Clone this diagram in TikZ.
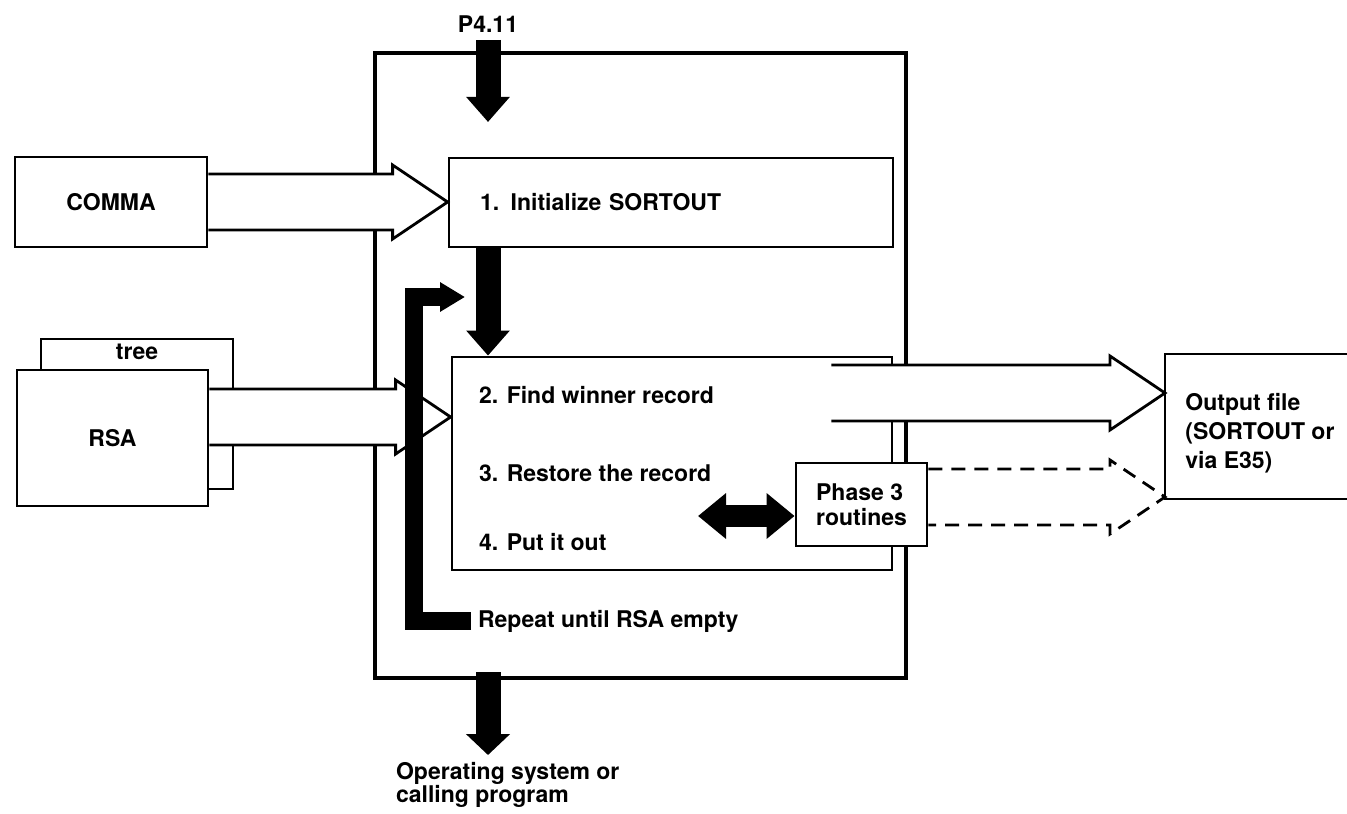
\documentclass[tikz,border=0pt]{standalone}
\usepackage{fontspec}
\setmainfont{TeX Gyre Heros}
\usetikzlibrary{arrows.meta, positioning, calc}
\tikzset{
	box/.style={draw, line width=1.4pt, inner sep=0pt},
	frame/.style={draw, line width=2.4pt, inner sep=0pt},
	hollow/.style={draw, line width=1.4pt, fill=white, line join=miter},
	dashline/.style={fill=none, dash pattern=on 7pt off 4.5pt},
	flow/.style={line width=12.5pt, -{Triangle[length=12.5pt,width=21pt]}},
	loopflow/.style={line width=9pt, -{Triangle[length=12.5pt,width=14pt]}},
	dflow/.style={line width=11pt, {Triangle[length=14pt,width=22pt]}-{Triangle[length=14pt,width=22pt]}},
}
\newcommand{\hollowarrow}[3][]{%
	\draw[hollow, #1] let \p1=#2, \p2=#3 in
	(\x1,\y1+14pt) -- (\x2-27.5pt,\y1+14pt) -- (\x2-27.5pt,\y1+18.5pt) -- (\x2,\y1)
	-- (\x2-27.5pt,\y1-18.5pt) -- (\x2-27.5pt,\y1-14pt) -- (\x1,\y1-14pt);
}

\begin{document}
\begin{tikzpicture}[x=0.5pt, y=-0.5pt, font=\bfseries\fontsize{11.5}{13}\selectfont]
	\useasboundingbox (0,0) rectangle (1347,813);

	\node[box, minimum width=96pt, minimum height=75pt,
		label={[anchor=north, inner sep=3pt]north:tree}] (tree) at (137,414) {};
	\node[frame, minimum width=265.5pt, minimum height=312.5pt] (sys) at (640.5,365.5) {};
	\node[box, text width=191pt, inner xsep=15.5pt, minimum height=44.5pt, align=left] (init) at (671,202.5) {1. Initialize SORTOUT};
	\node[box, minimum width=220pt, minimum height=106.5pt] (main) at (672,463.5) {};
	\node[anchor=west] (step2) at (472,395) {2. Find winner record};
	\node[anchor=west] (step3) at (472,473) {3. Restore the record};
	\node[anchor=west] (step4) at (472,542) {4. Put it out};
	\node[box, minimum width=96pt, minimum height=45pt] (comma) at (111,202) {COMMA};
	\node[box, fill=white, minimum width=95.5pt, minimum height=68pt] (rsa) at (112.5,438) {RSA};
	\node[box, fill=white, minimum width=65.5pt, minimum height=41.5pt, align=left,
		font=\bfseries\fontsize{11.5}{12.5}\selectfont] (phase) at (861.5,504.5) {Phase 3\\routines};
	\node[anchor=west, align=left, inner xsep=10pt,
		font=\bfseries\fontsize{11.5}{14.5}\selectfont] (out) at (1165,433) {Output file\\(SORTOUT or\\via E35)};
	\draw[line width=1.4pt] (1348,354) -- (1165,354) -- (1165,499) -- (1348,499);
	\node[anchor=south] (p411) at (488,40) {P4.11};
	\node[anchor=west] (repeat) at (471,621) {Repeat until RSA empty};
	\node[anchor=north west, align=left,
		font=\bfseries\fontsize{11.5}{11.5}\selectfont] (os) at (389,755) {Operating system or\\calling program};

	\hollowarrow{(comma.east)}{(init.west)}
	\hollowarrow{($(rsa.east)+(0,-21)$)}{(main.west)}
	\hollowarrow{($(main.east)+(-62,-70.5)$)}{(out.west)}
	\hollowarrow[dashline]{($(phase.east)+(0,-7.5)$)}{(out.west)}

	\coordinate (bend) at (414,297);
	\coordinate (back) at (465,297);
	\coordinate (p3call) at (698,516);

	\draw[flow] (p411.south) -- ($(p411.south)+(0,82)$);
	\draw[flow] (p411 |- init.south) -- (p411 |- main.north);
	\draw[flow, -{Triangle[length=10.5pt,width=21.5pt]}] ($(p411 |- sys.south)+(0,-8)$) -- (p411 |- os.north);
	\draw[loopflow] (repeat.west) -| (bend) -- (back);
	\draw[dflow] (p3call) -- (p3call -| phase.west);
\end{tikzpicture}
\end{document}
